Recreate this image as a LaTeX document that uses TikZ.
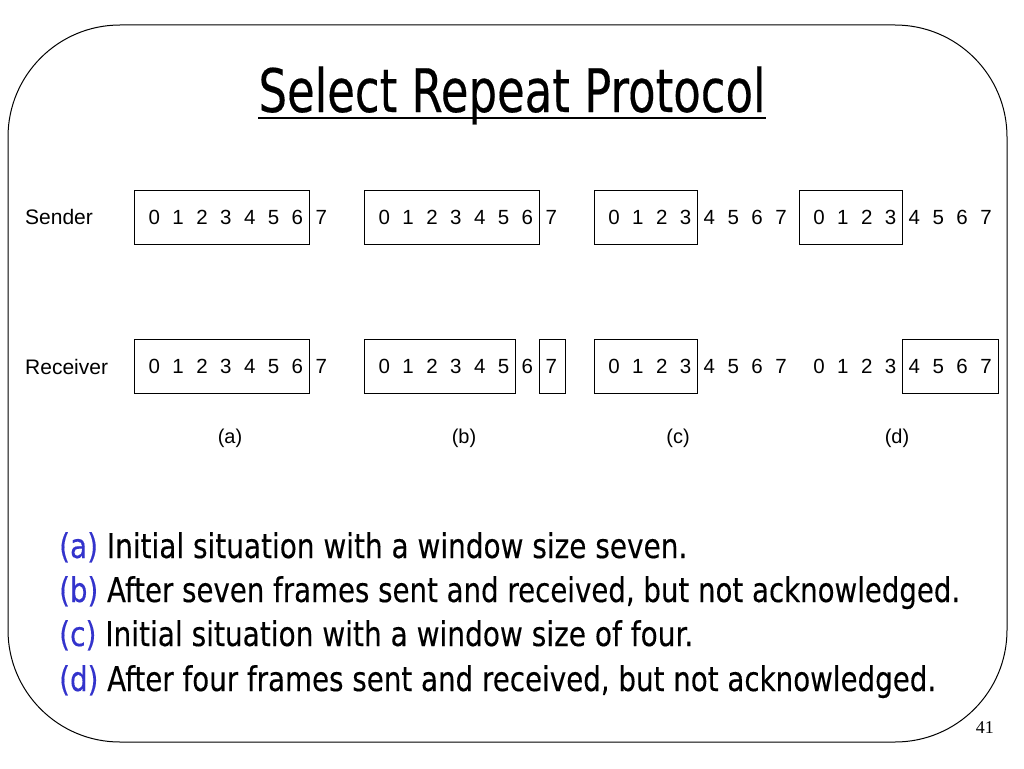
\documentclass[tikz,border=0pt]{standalone}
\usepackage{fontspec}
\setmainfont{Liberation Sans}
\newfontfamily\slideboldish[FakeBold=0.3]{DejaVu Sans}
\newfontfamily\numfont{Liberation Serif}
\usetikzlibrary{calc}
\definecolor{lblblue}{HTML}{3333CC}
\newcommand{\squeezeto}[2]{\resizebox{#1}{\height}{#2}}
\begin{document}
\begin{tikzpicture}[x=1pt,y=-1pt,
  digit/.style={inner sep=0pt, font=\fontsize{20.5}{20.5}\selectfont},
  win/.style={draw, line width=0.9pt},
  rowlabel/.style={anchor=west, inner sep=0pt, font=\fontsize{21}{21}\selectfont},
  caption/.style={inner sep=0pt, font=\fontsize{20}{20}\selectfont},
  bullet/.style={anchor=base west, inner sep=0pt, font=\slideboldish\fontsize{34}{34}\selectfont}]
\useasboundingbox[fill=white] (0,0) rectangle (1024,768);
\draw[line width=1pt, rounded corners=112pt] (8,25) rectangle (1007,742);
% title
\node[anchor=base, inner sep=0pt, font=\slideboldish\fontsize{60}{60}\selectfont] (title) at (512,112) {\squeezeto{507pt}{Select Repeat Protocol}};
\draw[line width=2.6pt] ([yshift=-6pt]title.base west) -- ([yshift=-6pt]title.base east);
% row labels
\node[rowlabel] (snd) at (25,217) {Sender};
\node[rowlabel] (rcv) at (25,367) {Receiver};
% digits
\foreach \g/\x in {a/154.3,b/384.3,c/614,d/819}{
  \foreach \i in {0,...,7}{
    \node[digit] (s\g\i) at (\x+\i*23.85,217.3) {\i};
    \node[digit] (r\g\i) at (\x+\i*23.85,366.7) {\i};
  }
}
% windows
\draw[win] ($(sa0.center)+(-20,-27)$) rectangle ($(sa6.center)+(12,27)$);
\draw[win] ($(ra0.center)+(-20,-27)$) rectangle ($(ra6.center)+(12,27)$);
\draw[win] ($(sb0.center)+(-20,-27)$) rectangle ($(sb6.center)+(12,27)$);
\draw[win] ($(rb0.center)+(-20,-27)$) rectangle ($(rb5.center)+(12,27)$);
\draw[win] ($(rb7.center)+(-11.5,-27)$) rectangle ($(rb7.center)+(14,27)$);
\draw[win] ($(sc0.center)+(-20,-27)$) rectangle ($(sc3.center)+(12,27)$);
\draw[win] ($(rc0.center)+(-20,-27)$) rectangle ($(rc3.center)+(12,27)$);
\draw[win] ($(sd0.center)+(-20,-27)$) rectangle ($(sd3.center)+(12,27)$);
\draw[win] ($(rd4.center)+(-11.5,-27)$) rectangle ($(rd7.center)+(12,27)$);
% captions
\node[caption] (ca) at (230,438) {(a)};
\node[caption] (cb) at (464,438) {(b)};
\node[caption] (cc) at (678,438) {(c)};
\node[caption] (cd) at (897,438) {(d)};
% bullet text
\node[bullet] (la) at (59,558) {\squeezeto{628pt}{\textcolor{lblblue}{(a)} Initial situation with a window size seven.}};
\node[bullet] (lb) at (59,602) {\squeezeto{901pt}{\textcolor{lblblue}{(b)} After seven frames sent and received, but not acknowledged.}};
\node[bullet] (lc) at (59,646) {\squeezeto{634pt}{\textcolor{lblblue}{(c)} Initial situation with a window size of four.}};
\node[bullet] (ld) at (59,691) {\squeezeto{877pt}{\textcolor{lblblue}{(d)} After four frames sent and received, but not acknowledged.}};
% page number
\node[anchor=base east, inner sep=0pt, font=\numfont\fontsize{18}{18}\selectfont] (pg) at (994,733) {41};
\end{tikzpicture}
\end{document}
